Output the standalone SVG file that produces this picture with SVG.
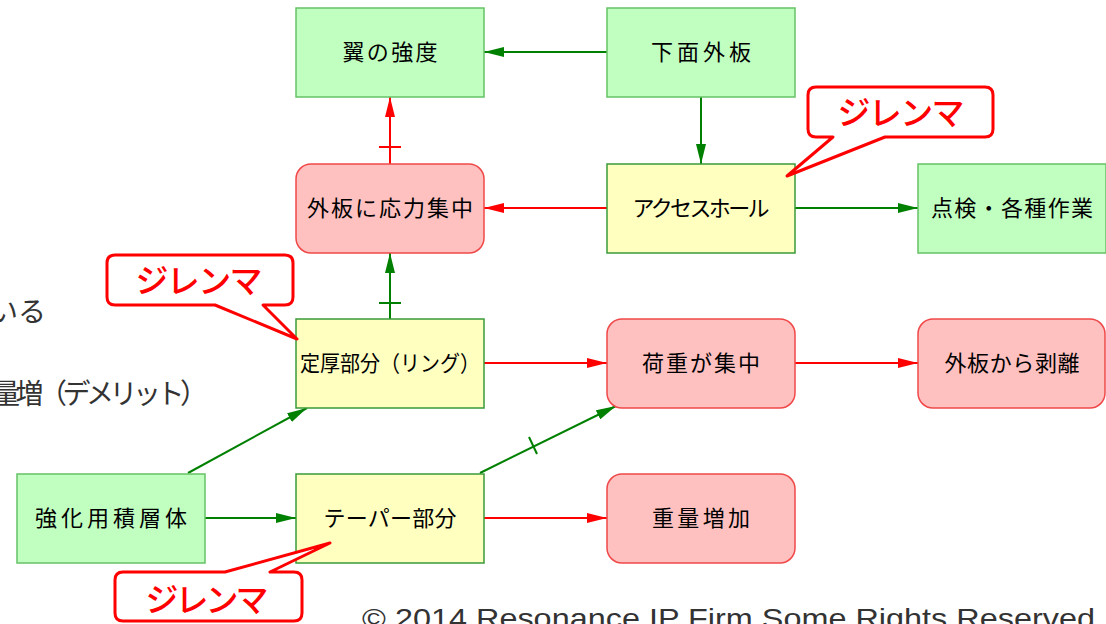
<svg xmlns="http://www.w3.org/2000/svg" width="1106" height="624" viewBox="0 0 1106 624">
<style>
.g{fill:#c0ffc0;stroke:#66c266;stroke-width:1.5}
.y{fill:#ffffc0;stroke:#3a9a3a;stroke-width:1.5}
.p{fill:#ffc0c0;stroke:#f04848;stroke-width:1.5}
.t{font-family:"Noto Sans CJK JP","Noto Sans",sans-serif;font-size:22px;fill:#000;text-anchor:middle}
.cg{stroke:#008000;stroke-width:2;fill:none}
.cr{stroke:#ff0000;stroke-width:2;fill:none}
.co{fill:#fff;stroke:#ff0000;stroke-width:3;stroke-linejoin:round}
.ct{font-family:"Noto Sans CJK JP",sans-serif;font-size:33px;font-weight:500;fill:#ff0000;text-anchor:middle}
.side{font-family:"Noto Sans CJK JP",sans-serif;font-size:28px;fill:#333}
</style>
<defs>
<marker id="ag" markerUnits="userSpaceOnUse" markerWidth="20" markerHeight="10" refX="20" refY="5" orient="auto"><path d="M0,0 L20,5 L0,10 Z" fill="#008000"/></marker>
<marker id="ar" markerUnits="userSpaceOnUse" markerWidth="20" markerHeight="10" refX="20" refY="5" orient="auto"><path d="M0,0 L20,5 L0,10 Z" fill="#ff0000"/></marker>
</defs>
<rect width="1106" height="624" fill="#fff"/>
<text class="side" x="-10" y="322">いる</text>
<text class="side" x="-8" y="404" textLength="216" lengthAdjust="spacing">量増（デメリット）</text>
<g id="connectors">
<line class="cg" x1="607" y1="52" x2="484" y2="52" marker-end="url(#ag)"/>
<line class="cg" x1="701" y1="97" x2="701" y2="164" marker-end="url(#ag)"/>
<line class="cr" x1="607" y1="208" x2="484" y2="208" marker-end="url(#ar)"/>
<line class="cg" x1="795" y1="208" x2="918" y2="208" marker-end="url(#ag)"/>
<line class="cr" x1="390" y1="164" x2="390" y2="97" marker-end="url(#ar)"/>
<line class="cr" x1="379" y1="147" x2="401" y2="147"/>
<line class="cg" x1="390" y1="319" x2="390" y2="253" marker-end="url(#ag)"/>
<line class="cg" x1="379" y1="303" x2="401" y2="303"/>
<line class="cr" x1="484" y1="363" x2="607" y2="363" marker-end="url(#ar)"/>
<line class="cr" x1="795" y1="363" x2="918" y2="363" marker-end="url(#ar)"/>
<line class="cg" x1="188" y1="473" x2="307" y2="408" marker-end="url(#ag)"/>
<line class="cg" x1="205" y1="518" x2="296" y2="518" marker-end="url(#ag)"/>
<line class="cg" x1="480" y1="473" x2="616" y2="406" marker-end="url(#ag)"/>
<line class="cg" x1="529" y1="437" x2="537" y2="454"/>
<line class="cr" x1="484" y1="518" x2="607" y2="518" marker-end="url(#ar)"/>
</g>
<g id="n1"><rect class="g" x="296" y="8" width="188" height="89"/><text class="t" x="390" y="60" textLength="95" lengthAdjust="spacing">翼の強度</text></g>
<g id="n2"><rect class="g" x="607" y="8" width="188" height="89"/><text class="t" x="701" y="60" textLength="100" lengthAdjust="spacing">下面外板</text></g>
<g id="n3"><rect class="p" x="296" y="164" width="188" height="89" rx="15"/><text class="t" x="390" y="216" textLength="166" lengthAdjust="spacing">外板に応力集中</text></g>
<g id="n4"><rect class="y" x="607" y="164" width="188" height="89"/><text class="t" x="701" y="216" textLength="137" lengthAdjust="spacing">アクセスホール</text></g>
<g id="n5"><rect class="g" x="918" y="164" width="188" height="89"/><text class="t" x="1012" y="216" textLength="162" lengthAdjust="spacing">点検・各種作業</text></g>
<g id="n6"><rect class="y" x="296" y="319" width="188" height="89"/><text class="t" x="390" y="371" textLength="180" lengthAdjust="spacingAndGlyphs">定厚部分（リング）</text></g>
<g id="n7"><rect class="p" x="607" y="319" width="188" height="89" rx="15"/><text class="t" x="701" y="371" textLength="118" lengthAdjust="spacing">荷重が集中</text></g>
<g id="n8"><rect class="p" x="918" y="319" width="187" height="89" rx="15"/><text class="t" x="1012" y="371" textLength="135" lengthAdjust="spacing">外板から剥離</text></g>
<g id="n9"><rect class="g" x="17" y="474" width="188" height="89"/><text class="t" x="111" y="526" textLength="152" lengthAdjust="spacing">強化用積層体</text></g>
<g id="n10"><rect class="y" x="296" y="474" width="188" height="89"/><text class="t" x="390" y="526" textLength="133" lengthAdjust="spacing">テーパー部分</text></g>
<g id="n11"><rect class="p" x="607" y="474" width="188" height="89" rx="15"/><text class="t" x="701" y="526" textLength="98" lengthAdjust="spacing">重量増加</text></g>
<g id="callout1"><path class="co" d="M816,87 H985 Q993,87 993,95 V129 Q993,137 985,137 H885 L787,176 L833,137 H816 Q808,137 808,129 V95 Q808,87 816,87 Z"/><text class="ct" x="901" y="125" textLength="127" lengthAdjust="spacing">ジレンマ</text></g>
<g id="callout2"><path class="co" d="M115,255 H285 Q293,255 293,263 V297 Q293,305 285,305 H263 L297,339 L215,305 H115 Q107,305 107,297 V263 Q107,255 115,255 Z"/><text class="ct" x="199" y="293" textLength="127" lengthAdjust="spacing">ジレンマ</text></g>
<g id="callout3"><path class="co" d="M123,572 H225 L330,543 L270,572 H294 Q302,572 302,580 V613 Q302,621 294,621 H123 Q115,621 115,613 V580 Q115,572 123,572 Z"/><text class="ct" x="207" y="612" textLength="123" lengthAdjust="spacing">ジレンマ</text></g>
<text x="362" y="628" font-family="Liberation Sans, Arial, sans-serif" font-size="28" fill="#333" textLength="733" lengthAdjust="spacingAndGlyphs">© 2014  Resonance IP Firm Some Rights Reserved</text>
</svg>
